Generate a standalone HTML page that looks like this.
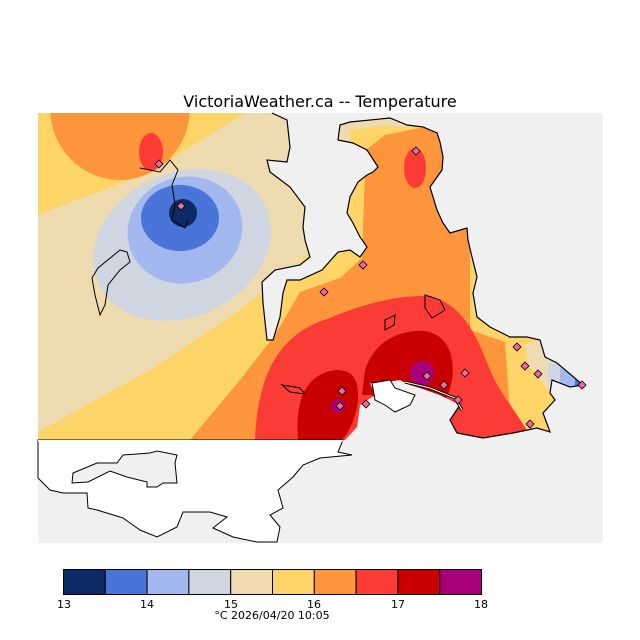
<!DOCTYPE html>
<html><head><style>
html,body{margin:0;padding:0;background:#fff;}
svg{display:block;}
text{font-family:"DejaVu Sans","Liberation Sans",sans-serif;fill:#000;}
</style></head><body>
<svg width="640" height="640" viewBox="0 0 640 640" xmlns="http://www.w3.org/2000/svg">
<defs>
<clipPath id="land"><polygon points="38,113 272,113 287,120 290,147 287,162 267,160 270,172 290,187 305,207 303,227 305,240 310,257 300,265 275,270 262,282 263,303 267,340 273,340 280,317 283,293 287,280 300,280 322,270 338,252 350,250 360,257 367,247 360,237 353,223 347,213 350,197 358,182 367,175 373,172 378,167 367,150 353,143 338,140 340,125 350,122 390,118 407,125 423,127 437,133 440,142 443,157 442,170 430,187 437,210 443,223 450,233 467,228 468,240 472,257 477,277 473,293 477,317 490,327 510,337 527,337 540,340 545,357 557,363 583,385 570,387 552,380 550,393 555,400 543,413 550,432 537,428 513,433 483,438 457,433 450,420 460,405 440,395 420,388 410,385 400,380 385,382 370,383 375,395 360,405 357,427 345,440 38,440"/></clipPath>
</defs>
<text x="320" y="107" font-size="16" text-anchor="middle">VictoriaWeather.ca -- Temperature</text>
<rect x="38" y="113" width="565" height="430" fill="#f0f0f0"/>
<g clip-path="url(#land)">
<rect x="38" y="113" width="565" height="330" fill="#fdd468"/>
<polygon points="38,215 150,172 245,113 350,113 350,200 300,262 240,310 150,370 38,432" fill="#eedcb0"/>
<polygon points="335,113 440,113 440,124 405,127 380,126 350,130 335,130" fill="#eedcb0"/>
<ellipse cx="120" cy="108" rx="70" ry="72" fill="#fd953c"/>
<ellipse cx="151" cy="152" rx="12" ry="19" fill="#fb3b35"/>
<ellipse cx="182" cy="245" rx="92" ry="72" transform="rotate(-25 182 245)" fill="#d0d5e2"/>
<ellipse cx="185" cy="230" rx="58" ry="53" transform="rotate(-20 185 230)" fill="#a4b8f0"/>
<ellipse cx="180" cy="218" rx="39" ry="33" fill="#4a74d8"/>
<circle cx="183" cy="213" r="14" fill="#0d2a66"/>
<polygon points="190,440 240,380 275,335 300,292 340,278 362,258 364,200 366,150 385,135 420,128 470,125 470,330 505,342 512,440" fill="#fd953c"/>
<ellipse cx="415" cy="168" rx="11" ry="20" fill="#fb3b35"/>
<path d="M255,440 C258,360 290,330 330,318 C360,305 395,295 430,296 C465,305 478,340 490,370 C500,395 520,415 532,440 Z" fill="#fb3b35"/>
<path d="M298,440 C295,400 305,375 335,370 C355,370 358,380 358,400 C356,420 345,440 340,440 Z" fill="#c80000"/>
<path d="M365,370 C375,340 400,330 425,331 C450,335 455,360 452,380 C448,400 440,412 425,418 C405,420 380,410 372,395 L362,395 Z" fill="#c80000"/>
<circle cx="422" cy="373" r="12" fill="#a8007a"/>
<circle cx="338" cy="406" r="7" fill="#a8007a"/>
<polygon points="505,340 525,335 560,350 560,440 540,440 528,405 512,370" fill="#fdd468"/>
<polygon points="525,345 545,338 560,355 552,395 540,380 528,365" fill="#eedcb0"/>
<polygon points="548,362 560,365 575,378 560,390 548,383" fill="#d0d5e2"/>
<polygon points="560,368 575,376 583,386 570,390 560,388" fill="#a4b8f0"/>
<polygon points="575,379 590,386 575,390" fill="#4a74d8"/>
</g>
<polyline fill="none" stroke="#000" stroke-width="1.2" points="272,113 287,120 290,147 287,162 267,160 270,172 290,187 305,207 303,227 305,240 310,257 300,265 275,270 262,282 263,303 267,340 273,340 280,317 283,293 287,280 300,280 322,270 338,252 350,250 360,257 367,247 360,237 353,223 347,213 350,197 358,182 367,175 373,172 378,167 367,150 353,143 338,140 340,125 350,122 390,118 407,125 423,127 437,133 440,142 443,157 442,170 430,187 437,210 443,223 450,233 467,228 468,240 472,257 477,277 473,293 477,317 490,327 510,337 527,337 540,340 545,357 557,363 583,385 570,387 552,380 550,393 555,400 543,413 550,432 537,428 513,433 483,438 457,433 450,420 460,405"/>
<polygon points="372,383 390,380 395,388 415,395 410,405 395,412 385,405 375,400" fill="#fff" stroke="#000"/>
<polyline points="405,382 430,388 455,398 462,410" fill="none" stroke="#000" stroke-width="3"/>
<polyline points="405,382 430,388 455,398 462,410" fill="none" stroke="#fff" stroke-width="1"/>
<path d="M140,168 L160,172 L170,160 L178,170 L172,185 L175,205 L172,220 L185,228 L188,220" fill="none" stroke="#000"/>
<path d="M120,250 L127,252 L130,262 L120,270 L108,285 L105,305 L100,315 L95,295 L92,278 L98,268 Z" fill="none" stroke="#000"/>
<path d="M282,385 L300,388 L305,394 L290,392 Z" fill="none" stroke="#000"/>
<path d="M425,295 L440,300 L445,310 L432,318 L425,308 Z" fill="none" stroke="#000"/>
<path d="M385,320 L395,315 L394,325 L385,330 Z" fill="none" stroke="#000"/>
<polygon points="38,440 343,440 338,452 352,455 320,458 303,465 293,477 278,490 283,508 270,515 280,527 277,542 257,542 233,537 213,528 227,517 210,512 183,512 177,527 157,537 140,530 123,518 97,510 88,508 87,493 63,493 50,490 38,478" fill="#fff" stroke="#000"/>
<polygon points="72,483 73,473 97,463 117,463 123,455 150,453 157,451 177,455 175,463 177,483 163,483 157,487 147,487 147,482 127,477 110,471 88,482" fill="#f0f0f0" stroke="#000"/>
<rect x="38" y="440" width="305" height="1.5" fill="#fff"/>
<g fill="#e86aa0" stroke="#000" stroke-width="0.8">
<path d="M159,160 l4,4 -4,4 -4,-4z"/><path d="M181,202 l4,4 -4,4 -4,-4z"/><path d="M416,147 l4,4 -4,4 -4,-4z"/><path d="M363,261 l4,4 -4,4 -4,-4z"/><path d="M324,288 l4,4 -4,4 -4,-4z"/><path d="M342,387 l4,4 -4,4 -4,-4z"/><path d="M340,402 l4,4 -4,4 -4,-4z"/><path d="M366,400 l4,4 -4,4 -4,-4z"/><path d="M427,372 l4,4 -4,4 -4,-4z"/><path d="M444,381 l4,4 -4,4 -4,-4z"/><path d="M465,369 l4,4 -4,4 -4,-4z"/><path d="M517,343 l4,4 -4,4 -4,-4z"/><path d="M525,362 l4,4 -4,4 -4,-4z"/><path d="M538,370 l4,4 -4,4 -4,-4z"/><path d="M582,381 l4,4 -4,4 -4,-4z"/><path d="M530,420 l4,4 -4,4 -4,-4z"/><path d="M458,396 l4,4 -4,4 -4,-4z"/>
</g>
<g stroke="#000" stroke-width="1">
<rect x="63.5" y="569.5" width="41.8" height="25" fill="#0d2a66"/>
<rect x="105.3" y="569.5" width="41.8" height="25" fill="#4a74d8"/>
<rect x="147.1" y="569.5" width="41.8" height="25" fill="#a4b8f0"/>
<rect x="188.9" y="569.5" width="41.8" height="25" fill="#d0d5e2"/>
<rect x="230.7" y="569.5" width="41.8" height="25" fill="#eedcb0"/>
<rect x="272.5" y="569.5" width="41.8" height="25" fill="#fdd468"/>
<rect x="314.3" y="569.5" width="41.8" height="25" fill="#fd953c"/>
<rect x="356.1" y="569.5" width="41.8" height="25" fill="#fb3b35"/>
<rect x="397.9" y="569.5" width="41.8" height="25" fill="#c80000"/>
<rect x="439.7" y="569.5" width="41.8" height="25" fill="#a8007a"/>
</g>
<g font-size="11" text-anchor="middle">
<text x="64" y="608">13</text><text x="147" y="608">14</text><text x="231" y="608">15</text><text x="314" y="608">16</text><text x="398" y="608">17</text><text x="481" y="608">18</text>
</g>
<text x="272" y="619" font-size="11" text-anchor="middle">°C  2026/04/20 10:05</text>
</svg>
</body></html>
